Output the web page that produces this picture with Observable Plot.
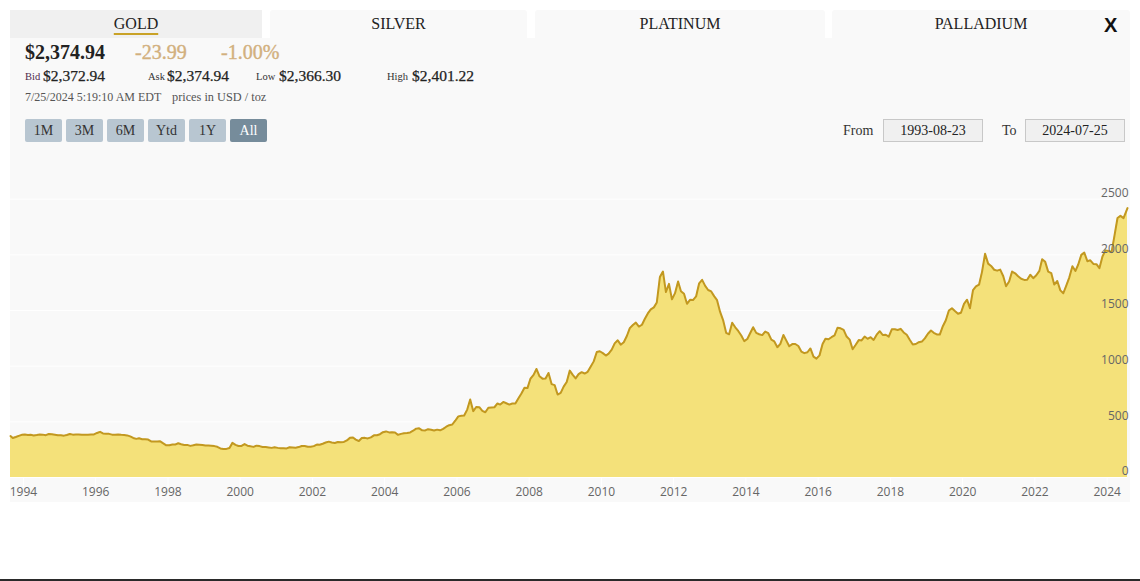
<!DOCTYPE html>
<html><head><meta charset="utf-8">
<script src="https://cdn.jsdelivr.net/npm/d3@7"></script>
<script src="https://cdn.jsdelivr.net/npm/@observablehq/plot@0.6"></script>
<style>
body{margin:0;width:1140px;height:581px;background:#fff;position:relative;overflow:hidden;font-family:"Liberation Serif",serif;color:#222}
.a{position:absolute;white-space:nowrap}
.tab{position:absolute;top:10px;height:28px;line-height:28px;text-align:center;font-size:16px;color:#222;background:#f9f9f9;border-radius:3px 3px 0 0}
.btn{position:absolute;top:119px;width:37px;height:23px;line-height:23px;text-align:center;font-size:14px;background:#b8c6d1;color:#333;border-radius:2px}
.box{position:absolute;top:119px;height:21px;line-height:21px;width:98px;text-align:center;font-size:14px;background:#f0f0f0;border:1px solid #c8c8c8;color:#222}
</style></head><body>
<div class="a" style="left:10px;top:38px;width:1120px;height:105px;background:#f9f9f9"></div>
<div id="tabs"></div>
<div class="a" style="left:1104px;top:12px;font-family:'Liberation Sans',sans-serif;font-weight:bold;font-size:20px;line-height:26px;color:#111">X</div>

<div class="a" style="left:25px;top:42px;font-size:20px;line-height:20px;font-weight:bold;color:#222">$2,374.94</div>
<div class="a" style="left:135px;top:42px;font-size:20px;line-height:20px;color:#d2b07e;-webkit-text-stroke:0.4px #d2b07e">-23.99</div>
<div class="a" style="left:221px;top:42px;font-size:20px;line-height:20px;color:#d2b07e;-webkit-text-stroke:0.4px #d2b07e">-1.00%</div>

<div class="a" style="left:25px;top:72px;font-size:10.5px;line-height:10.5px;color:#50284d">Bid</div>
<div class="a" style="left:43px;top:68px;font-size:15.5px;line-height:15.5px;color:#222;-webkit-text-stroke:0.25px #222">$2,372.94</div>
<div class="a" style="left:148px;top:72px;font-size:10.5px;line-height:10.5px;color:#333">Ask</div>
<div class="a" style="left:167px;top:68px;font-size:15.5px;line-height:15.5px;color:#222;-webkit-text-stroke:0.25px #222">$2,374.94</div>
<div class="a" style="left:256px;top:72px;font-size:10.5px;line-height:10.5px;color:#333">Low</div>
<div class="a" style="left:279px;top:68px;font-size:15.5px;line-height:15.5px;color:#222;-webkit-text-stroke:0.25px #222">$2,366.30</div>
<div class="a" style="left:387px;top:72px;font-size:10.5px;line-height:10.5px;color:#333">High</div>
<div class="a" style="left:412px;top:68px;font-size:15.5px;line-height:15.5px;color:#222;-webkit-text-stroke:0.25px #222">$2,401.22</div>

<div class="a" style="left:25px;top:91px;font-size:12px;line-height:12px;color:#555">7/25/2024 5:19:10 AM EDT</div>
<div class="a" style="left:172px;top:91px;font-size:12.3px;line-height:12px;color:#555">prices in USD / toz</div>

<div id="btns"></div>
<div class="a" style="left:843px;top:119px;line-height:23px;font-size:14px;color:#333">From</div>
<div class="box" style="left:883px">1993-08-23</div>
<div class="a" style="left:1002px;top:119px;line-height:23px;font-size:14px;color:#333">To</div>
<div class="box" style="left:1025px">2024-07-25</div>

<div id="chart" class="a" style="left:10px;top:143px"></div>
<div class="a" style="left:0;top:579px;width:1140px;height:2px;background:#2a2a2a"></div>

<script>
// ---- data ----
const metalTabs = ["GOLD", "SILVER", "PLATINUM", "PALLADIUM"];
const rangeButtons = ["1M", "3M", "6M", "Ytd", "1Y", "All"];
const yTicks = [0, 500, 1000, 1500, 2000, 2500];
const xTickYears = [1994, 1996, 1998, 2000, 2002, 2004, 2006, 2008, 2010, 2012, 2014, 2016, 2018, 2020, 2022, 2024];
const firstDate = "1993-08-23";
const lastDate = "2024-07-25";
const lastPrice = 2420;
// monthly gold price (USD / toz), Aug 1993 .. Jun 2024
const monthlyPrice = [
  372, 355, 364, 374, 383,                                        // 1993 (Aug-Dec)
  387, 382, 384, 377, 381, 386, 385, 380, 391, 389, 384, 379,     // 1994
  379, 376, 382, 391, 385, 387, 386, 383, 383, 383, 386, 387,     // 1995
  400, 410, 396, 393, 392, 385, 383, 387, 383, 381, 378, 369,     // 1996
  355, 347, 352, 344, 344, 341, 324, 324, 323, 325, 306, 289,     // 1997
  289, 297, 296, 308, 299, 292, 293, 284, 289, 296, 294, 291,     // 1998
  287, 287, 286, 282, 276, 261, 256, 257, 265, 311, 293, 283,     // 1999
  284, 300, 286, 280, 275, 286, 282, 274, 273, 270, 266, 272,     // 2000
  266, 262, 263, 261, 272, 270, 268, 273, 283, 283, 276, 276,     // 2001
  282, 296, 294, 303, 314, 322, 314, 310, 319, 317, 319, 333,     // 2002
  356, 359, 340, 328, 355, 356, 351, 360, 379, 379, 389, 407,     // 2003
  414, 405, 406, 404, 383, 392, 398, 400, 405, 420, 439, 442,     // 2004
  424, 423, 434, 429, 422, 430, 424, 437, 456, 470, 476, 510,     // 2005
  549, 555, 557, 610, 700, 596, 633, 632, 598, 586, 627, 629,     // 2006
  631, 665, 655, 679, 667, 655, 665, 665, 712, 754, 806, 803,     // 2007
  889, 922, 975, 909, 888, 889, 939, 839, 830, 745, 760, 816,     // 2008
  858, 960, 924, 890, 928, 946, 934, 949, 996, 1043, 1127, 1134,  // 2009
  1117, 1095, 1113, 1148, 1205, 1232, 1193, 1215, 1271, 1342, 1370, 1391, // 2010
  1356, 1372, 1424, 1474, 1510, 1528, 1572, 1800, 1850, 1666, 1739, 1600, // 2011
  1656, 1760, 1673, 1650, 1560, 1596, 1594, 1626, 1744, 1775, 1721, 1684, // 2012
  1671, 1627, 1593, 1487, 1414, 1300, 1286, 1390, 1349, 1316, 1275, 1225, // 2013
  1244, 1300, 1350, 1299, 1287, 1279, 1311, 1296, 1238, 1222, 1170, 1200, // 2014
  1280, 1227, 1179, 1198, 1199, 1181, 1131, 1117, 1125, 1159, 1086, 1068, // 2015
  1097, 1200, 1246, 1242, 1260, 1276, 1345, 1340, 1326, 1266, 1238, 1152, // 2016
  1192, 1234, 1231, 1266, 1246, 1260, 1236, 1283, 1314, 1280, 1282, 1265, // 2017
  1331, 1331, 1325, 1335, 1303, 1282, 1238, 1195, 1199, 1215, 1221, 1250, // 2018
  1291, 1320, 1300, 1285, 1284, 1359, 1413, 1500, 1520, 1495, 1471, 1480, // 2019
  1560, 1597, 1520, 1683, 1716, 1732, 1847, 2010, 1921, 1900, 1866, 1858, // 2020
  1867, 1808, 1718, 1760, 1850, 1834, 1807, 1785, 1775, 1777, 1821, 1790, // 2021
  1817, 1856, 1960, 1937, 1849, 1836, 1733, 1765, 1681, 1655, 1726, 1798, // 2022
  1898, 1855, 1913, 2000, 2020, 1943, 1951, 1918, 1916, 1880, 1985, 2040, // 2023
  2034, 2024, 2170, 2331, 2350, 2330                              // 2024 (Jan-Jun)
];

// ---- header widgets ----
const tabPos = [[10, 252], [270, 257], [535, 290], [832, 298]];
const tabsEl = document.getElementById("tabs");
metalTabs.forEach((t, i) => {
  const d = document.createElement("div");
  d.className = "tab";
  d.style.left = tabPos[i][0] + "px";
  d.style.width = tabPos[i][1] + "px";
  if (i === 0) {
    d.style.background = "#f0f0f0";
    d.style.borderRadius = "0";
    const s = document.createElement("span");
    s.textContent = t;
    s.style.textDecoration = "underline";
    s.style.textDecorationColor = "#c9a227";
    s.style.textDecorationThickness = "2px";
    s.style.textUnderlineOffset = "4px";
    d.appendChild(s);
  } else d.textContent = t;
  tabsEl.appendChild(d);
});
const btnsEl = document.getElementById("btns");
rangeButtons.forEach((b, i) => {
  const d = document.createElement("div");
  d.className = "btn";
  d.style.left = (25 + i * 41) + "px";
  d.textContent = b;
  if (b === "All") { d.style.background = "#768c9b"; d.style.color = "#fff"; }
  btnsEl.appendChild(d);
});

// ---- chart ----
const start = new Date(firstDate + "T00:00:00Z");
const end = new Date(lastDate + "T00:00:00Z");
const data = monthlyPrice.map((v, i) => ({
  date: i === 0 ? start : new Date(Date.UTC(1993, 7 + i, 15)),
  price: v
}));
data.push({date: end, price: lastPrice});
const xTicks = xTickYears.map(y => new Date(Date.UTC(y, 0, 1)));

const chart = Plot.plot({
  width: 1120,
  height: 359,
  marginLeft: 0,
  marginRight: 3,
  marginTop: 0,
  marginBottom: 25,
  style: {background: "#f9f9f9", fontFamily: "'Open Sans', sans-serif", fontSize: "12px", color: "#666", overflow: "visible"},
  x: {type: "utc", domain: [start, end], label: null},
  y: {domain: [0, 3000], label: null},
  marks: [
    Plot.gridY(yTicks, {stroke: "#fff", strokeOpacity: 1, strokeWidth: 1}),
    Plot.areaY(data, {x: "date", y: "price", fill: "#f4e17a"}),
    Plot.lineY(data, {x: "date", y: "price", stroke: "#c29820", strokeWidth: 2}),
    Plot.axisY(yTicks, {anchor: "right", tickSize: 0, tickPadding: 1, textAnchor: "end", dy: -6, fill: "#666", label: null, tickFormat: d => String(d)}),
    Plot.axisX(xTicks, {anchor: "bottom", tickSize: 10, tickPadding: 0, stroke: "#fff", fill: "#666", tickFormat: "%Y", label: null})
  ]
});
document.getElementById("chart").appendChild(chart);
</script>
</body></html>
